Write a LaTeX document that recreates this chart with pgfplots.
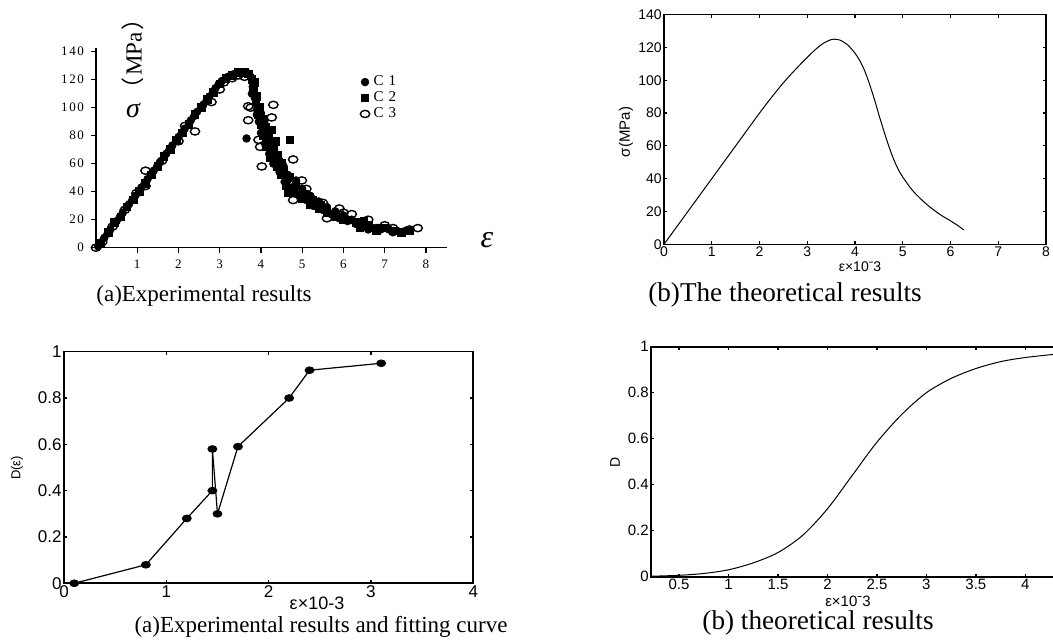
\documentclass[border=0pt]{standalone}
\usepackage{fontspec}
\setmainfont{Liberation Serif}
\newfontfamily\arial{Liberation Sans}
\newfontfamily\cjk{Noto Sans CJK SC}
\usepackage{pgfplots}
\pgfplotsset{compat=1.18}
\newcommand{\fs}[1]{\fontsize{#1}{#1}\selectfont}

\begin{document}
\begin{tikzpicture}[x=0.5pt,y=0.5pt]
\useasboundingbox (0,0) rectangle (1053,640);
\coordinate (pa) at (96,392.3);
\coordinate (pb) at (664,395.7);
\coordinate (pc) at (64,56.7);
\coordinate (pd) at (651,63.3);

% ---- top left: experimental stress-strain scatter
\begin{axis}[
  at={(pa)}, anchor=south west, scale only axis,
  width=175.5pt, height=99.85pt,
  xmin=0, xmax=8.51, ymin=0, ymax=142.6,
  axis lines=left, axis line style={-, line width=0.7pt},
  xtick={1,...,8}, ytick={0,20,...,140},
  yticklabels={0,2\kern.8pt0,4\kern.8pt0,6\kern.8pt0,8\kern.8pt0,1\kern.8pt0\kern.8pt0,1\kern.8pt2\kern.8pt0,1\kern.8pt4\kern.8pt0},
  xticklabels={1,2,3,4,5,6,7,8},
  tick align=outside, major tick length=2.5pt,
  tick style={black, line width=0.6pt},
  ticklabel style={font=\fs{6.5}},
  /pgf/number format/assume math mode=true,
  clip=false,
  legend style={at={(axis cs:6.4,126)}, anchor=north west, draw=none, fill=none,
    font=\fs{7.5}, row sep=-2.5pt, inner sep=0pt},
  legend cell align=left,
]
\addplot[only marks, mark=*, mark size=1.9pt, mark options={fill=black}] coordinates {
(0.05,1) (0.2,7) (0.35,13) (0.5,19) (0.65,25) (0.8,31) (0.95,37) (1.1,43)
(1.25,49) (1.4,55) (1.55,61) (1.7,67) (1.85,73) (2.0,79) (2.15,85) (2.3,91)
(2.45,97) (2.6,102) (2.75,108) (2.9,114) (3.05,119) (3.2,122) (3.35,124) (3.5,125)
(3.65,125) (3.75,122) (3.8,115) (3.85,107) (3.9,99) (3.95,90) (4.0,82) (4.1,74)
(4.2,67) (4.3,60) (3.65,78) (4.45,54) (4.6,48) (4.75,43) (4.9,38) (5.1,34)
(5.3,30) (5.5,27) (5.7,24) (5.9,21) (6.1,19) (6.3,17) (6.5,15) (6.7,14)
(6.9,13) (7.1,13) (7.3,12) (7.5,12)
(3.78,110) (3.9,95) (4.0,96) (4.08,90) (4.15,82) (4.28,75) (4.45,62) (4.55,58)
(4.65,52) (4.85,48) (5.0,42) (5.2,37) (5.4,33) (5.6,29) (5.8,26) (6.0,23)
(6.2,20) (6.45,18) (6.6,13) (6.85,14) (7.2,11) (0.28,10) (0.58,22) (0.88,34)
(1.18,46) (1.48,58) (1.78,70) (2.08,82) (2.38,94) (2.68,105) (2.98,117) (3.28,123)};
\addplot[only marks, mark=square*, mark size=1.9pt, mark options={fill=black}] coordinates {
(0.1,3) (0.3,11) (0.45,18) (0.6,22) (0.75,29) (0.9,34) (1.05,40) (1.2,46)
(1.35,52) (1.5,58) (1.65,65) (1.8,70) (1.95,77) (2.1,82) (2.25,88) (2.4,95)
(2.55,100) (2.7,106) (2.85,111) (3.0,117) (3.15,121) (3.3,123) (3.45,125) (3.6,125)
(3.7,124) (3.78,120) (3.82,112) (3.88,104) (3.93,95) (4.0,88) (4.05,80) (4.12,72)
(4.25,84) (4.35,76) (4.22,64) (4.4,58) (4.7,77) (4.5,52) (4.6,44) (4.65,39)
(4.8,40) (5.0,35) (5.2,31) (5.4,28) (5.6,25) (5.8,22) (6.0,20) (6.3,18)
(6.4,14) (6.6,16) (6.8,12) (7.0,14) (7.2,12) (7.4,11) (7.6,12)
(3.85,118) (3.9,108) (3.97,100) (4.03,92) (4.1,86) (4.18,78) (4.3,70) (4.4,66)
(4.5,60) (4.55,55) (4.7,50) (4.85,45) (5.05,38) (5.25,34) (5.45,30) (6.5,19)};
\addplot[only marks, mark=o, mark size=1.8pt, mark options={xscale=1.3, fill=white, line width=0.7pt}] coordinates {
(0.0,0) (0.15,4) (0.4,15) (0.7,27) (0.98,39) (1.2,44) (1.2,55) (1.6,62)
(2.0,76) (2.16,87) (2.4,83) (2.8,104) (3.0,113) (3.1,118) (3.3,121) (3.45,123)
(3.6,122) (3.69,101) (3.69,91) (3.75,100) (3.94,77) (3.98,72) (4.02,58) (4.26,93)
(4.3,102) (4.35,60) (4.78,63) (4.6,47) (4.78,34) (4.99,48) (5.1,42) (5.27,30)
(5.5,32) (5.6,21) (5.9,28) (6.0,25) (6.2,24) (6.4,17) (6.6,20) (6.8,14)
(7.0,16) (7.2,14) (7.6,13) (7.8,14)};
\legend{C\kern2.5pt1,C\kern2.5pt2,C\kern2.5pt3}
\end{axis}
\node[font=\fs{14}\itshape] at (133,530) {σ};
\node[font=\fs{11.5}, rotate=90] at (133,586) {{\cjk （}\kern1pt MPa\kern1pt{\cjk ）}};
\node[font=\fs{16}\itshape] at (487,400) {ε};
\node[font=\fs{11.5}] at (204,344) {(a)Experimental results};

% ---- top right: theoretical stress-strain
\begin{axis}[
  at={(pb)}, anchor=south west, scale only axis,
  width=191pt, height=114.8pt,
  xmin=0, xmax=8, ymin=0, ymax=140,
  xtick={0,...,8}, ytick={0,20,...,140},
  axis line style={line width=0.6pt},
  tick align=inside, major tick length=1.5pt,
  tick style={black, line width=0.6pt},
  ticklabel style={font=\arial\fs{7}, inner sep=1pt},
  /pgf/number format/assume math mode=true,
]
\addplot[black, line width=0.5pt, smooth, tension=0.5] coordinates {
(0,0) (0.5,20) (1,40) (1.5,60) (2,80) (2.25,89.5) (2.5,98.5) (2.75,106.5)
(3.0,114) (3.2,119.5) (3.35,122.8) (3.5,124.8) (3.6,125) (3.7,124.3)
(3.85,121.5) (4.0,116.5) (4.1,112) (4.2,106) (4.3,98) (4.4,89) (4.5,79)
(4.6,69.5) (4.7,60.5) (4.8,52.5) (4.9,46) (5.0,41) (5.2,33) (5.4,27)
(5.6,22) (5.8,17.8) (6.0,14.3) (6.15,11.5) (6.28,8.7)};
\end{axis}
\node[font=\arial\fs{7.5}, rotate=90] at (626,508) {σ(MPa)};
\node[font=\arial\fs{7}] at (860,373) {ε×10ˉ3};
\node[font=\fs{13.6}] at (785,345) {(b)The theoretical results};

% ---- bottom left: damage, experimental
\begin{axis}[
  at={(pc)}, anchor=south west, scale only axis,
  width=204.65pt, height=115.8pt,
  xmin=0, xmax=4, ymin=0, ymax=1,
  xtick={0,1,2,3,4}, ytick={0,0.2,0.4,0.6,0.8,1},
  axis line style={line width=0.8pt},
  tick align=inside, major tick length=1.5pt,
  tick style={black, line width=0.7pt},
  ticklabel style={font=\arial\fs{8.5}, inner sep=1pt},
  /pgf/number format/assume math mode=true,
  clip=false,
]
\addplot[black, line width=0.6pt, mark=*, mark size=1.6pt, mark options={xscale=1.35, fill=black}] coordinates {
(0.1,0) (0.8,0.08) (1.2,0.28) (1.45,0.40) (1.45,0.58) (1.5,0.30) (1.7,0.59)
(2.2,0.80) (2.4,0.92) (3.1,0.95)};
\end{axis}
\node[font=\arial\fs{6.5}, rotate=90] at (17,172) {D(ε)};
\node[font=\arial\fs{9}] at (317,37) {ε×10-3};
\node[font=\fs{11.5}] at (321,13) {(a)Experimental results and fitting curve};

% ---- bottom right: damage, theoretical
\begin{axis}[
  at={(pd)}, anchor=south west, scale only axis,
  width=203pt, height=115pt,
  xmin=0.217, xmax=4.32, ymin=0, ymax=1,
  xtick={0.5,1,...,4}, ytick={0,0.2,0.4,0.6,0.8,1},
  axis line style={line width=0.9pt},
  tick align=inside, major tick length=1.5pt,
  tick style={black, line width=0.8pt},
  ticklabel style={font=\arial\fs{7.5}, inner sep=1pt},
  /pgf/number format/assume math mode=true,
]
\addplot[black, line width=0.5pt, smooth, tension=0.5] coordinates {
(0.217,0.002) (0.5,0.006) (0.75,0.014) (1.0,0.03) (1.25,0.06) (1.5,0.105)
(1.75,0.18) (2.0,0.295) (2.25,0.44) (2.5,0.585) (2.75,0.705) (3.0,0.80)
(3.25,0.862) (3.5,0.905) (3.75,0.935) (4.0,0.953) (4.32,0.968)};
\end{axis}
\node[font=\arial\fs{7}, rotate=90] at (615,178) {D};
\node[font=\arial\fs{7.5}] at (848,39) {ε×10ˉ3};
\node[font=\fs{13.6}] at (818,17) {(b) theoretical results};
\end{tikzpicture}
\end{document}
